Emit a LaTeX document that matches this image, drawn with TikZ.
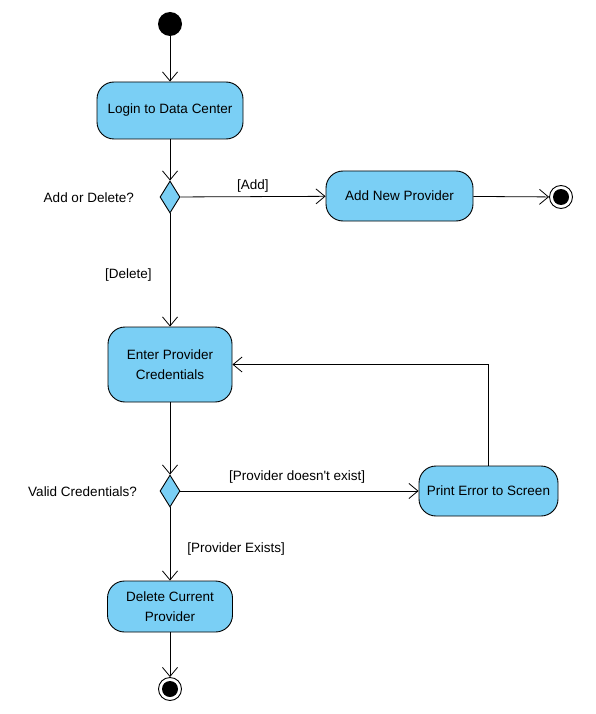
\documentclass[tikz,border=0pt]{standalone}
\usepackage{fontspec}
\setmainfont{Liberation Sans}
\usetikzlibrary{arrows.meta,shapes.geometric,positioning}
\definecolor{actblue}{RGB}{122,207,245}

\begin{document}
\begin{tikzpicture}[x=1pt,y=-1pt,
    font=\fontsize{13.5}{20}\selectfont,
    act/.style={draw,fill=actblue,rounded corners=17pt,line width=0.9pt,align=center,inner sep=0pt},
    dec/.style={draw,fill=actblue,diamond,aspect=0.62,minimum width=20pt,minimum height=32pt,inner sep=0pt,line width=0.9pt},
    start/.style={circle,fill=black,minimum size=24pt,inner sep=0pt},
    stop/.style={circle,draw,line width=0.9pt,minimum size=23pt,inner sep=0pt,
      path picture={\fill[black] (path picture bounding box.center) circle (8pt);}},
    flow/.style={-{Straight Barb[length=9pt,width=15pt,line width=0.8pt]},line width=0.8pt},
    guard/.style={inner sep=0pt}]
     \useasboundingbox (0,0) rectangle (595,714);
     \node[start] (s) at (170,24) {};
     \node[act,minimum width=146pt,minimum height=57pt] (login) at (170,110.5) {Login to Data Center};
     \node[dec] (d1) at (170,197) {};
     \node[guard,anchor=east] (q1) at (134,198) {Add or Delete?};
     \node[act,minimum width=147pt,minimum height=50pt] (add) at (399.5,196) {Add New Provider};
     \node[stop] (e1) at (561,197) {};
     \node[act,minimum width=124pt,minimum height=75pt] (enter) at (170,364.5) {Enter Provider\\Credentials};
     \node[dec] (d2) at (170,491) {};
     \node[guard,anchor=east] (q2) at (137,492) {Valid Credentials?};
     \node[act,minimum width=139pt,minimum height=50pt] (err) at (488.5,491) {Print Error to Screen};
     \node[act,minimum width=125pt,minimum height=51pt] (del) at (170,606.5) {Delete Current\\Provider};
     \node[stop] (e2) at (170,689) {};

     \draw[flow] (s) -- (login);
     \draw[flow] (login) -- (d1);
     \draw[flow] (d1) -- node[guard,above=4pt,pos=0.5] {[Add]} (add);
     \draw[flow] (add) -- (e1);
     \draw[flow] (d1) -- node[guard,left=18pt,pos=0.54] {[Delete]} (enter);
     \draw[flow] (enter) -- (d2);
     \draw[flow] (d2) -- node[guard,above=7pt,pos=0.49] {[Provider doesn\textquotesingle t exist]} (err);
     \draw[flow] (err.north) |- (enter.east);
     \draw[flow] (d2) -- node[guard,right=17pt,pos=0.57] {[Provider Exists]} (del);
     \draw[flow] (del) -- (e2);
    \end{tikzpicture}
\end{document}
